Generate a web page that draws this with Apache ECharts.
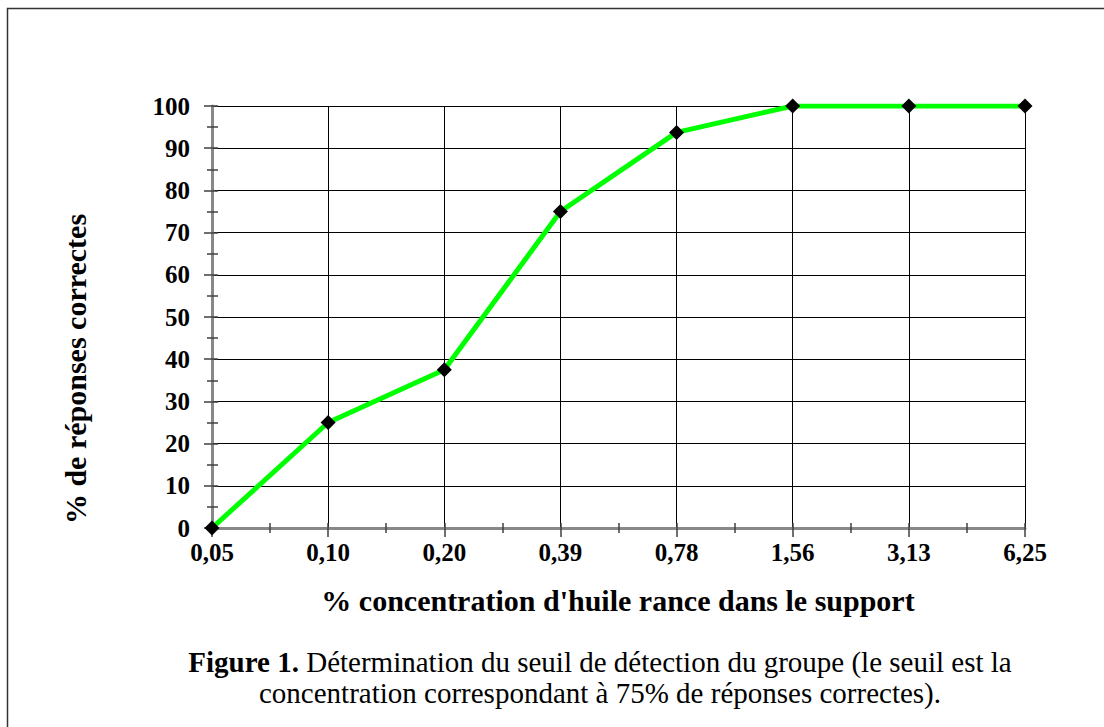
<!DOCTYPE html>
<html>
<head>
<meta charset="utf-8">
<script src="https://cdn.jsdelivr.net/npm/echarts@6/dist/echarts.min.js"></script>
<style>
  html, body { margin: 0; padding: 0; background: #fff; }
  #chart { width: 1104px; height: 727px; }
</style>
</head>
<body>
<div id="chart"></div>
<script>
// data
var concentrations = ['0,05', '0,10', '0,20', '0,39', '0,78', '1,56', '3,13', '6,25'];
var correctPct = [0, 25, 37.5, 75, 93.75, 100, 100, 100];
var yTicks = [0, 10, 20, 30, 40, 50, 60, 70, 80, 90, 100];

var serif = '"Liberation Serif", "Times New Roman", serif';
var points = correctPct.map(function(v, i) { return [i, v]; });

var chart = echarts.init(document.getElementById('chart'), null, { renderer: 'svg' });
chart.setOption({
  animation: false,
  backgroundColor: '#fff',
  grid: { left: 212, right: 79, top: 106, bottom: 199, show: false },
  xAxis: [{
    type: 'value',
    min: 0,
    max: concentrations.length - 1,
    interval: 1,
    position: 'bottom',
    axisLine: { lineStyle: { color: '#404040', width: 2 } },
    axisTick: { show: true, length: 9, lineStyle: { color: '#404040', width: 1.5 } },
    minorTick: { show: true, splitNumber: 2, length: 5, lineStyle: { color: '#404040', width: 1.5 } },
    axisLabel: {
      color: '#000', fontFamily: serif, fontWeight: 'bold', fontSize: 25, margin: 12,
      formatter: function(v) { return concentrations[v] || ''; }
    },
    splitLine: { show: true, lineStyle: { color: '#000', width: 1 } }
  }, {
    type: 'value',
    min: 0,
    max: concentrations.length - 1,
    interval: 0.5,
    position: 'bottom',
    axisLine: { show: false },
    axisTick: { show: true, inside: true, length: 5, lineStyle: { color: '#404040', width: 1.5 } },
    axisLabel: { show: false },
    splitLine: { show: false }
  }, {
    type: 'value',
    min: 0,
    max: concentrations.length - 1,
    position: 'top',
    axisLine: { show: true, lineStyle: { color: '#888', width: 3 } },
    axisTick: { show: false },
    axisLabel: { show: false },
    splitLine: { show: false }
  }],
  yAxis: [{
    type: 'value',
    min: yTicks[0],
    max: yTicks[yTicks.length - 1],
    interval: 10,
    position: 'left',
    axisLine: { show: true, lineStyle: { color: '#404040', width: 2 } },
    axisTick: { show: true, length: 8, lineStyle: { color: '#404040', width: 1.5 } },
    minorTick: { show: true, splitNumber: 2, length: 5, lineStyle: { color: '#404040', width: 1.5 } },
    axisLabel: { color: '#000', fontFamily: serif, fontWeight: 'bold', fontSize: 25, margin: 22 },
    splitLine: { show: true, lineStyle: { color: '#000', width: 1 } }
  }, {
    type: 'value',
    min: 0,
    max: 100,
    interval: 5,
    position: 'left',
    axisLine: { show: false },
    axisTick: { show: true, inside: true, length: 6, lineStyle: { color: '#404040', width: 1.5 } },
    axisLabel: { show: false },
    splitLine: { show: false }
  }, {
    type: 'value',
    min: 0,
    max: 100,
    position: 'right',
    axisLine: { show: true, lineStyle: { color: '#888', width: 3 } },
    axisTick: { show: false },
    axisLabel: { show: false },
    splitLine: { show: false }
  }],
  series: [{
    type: 'line',
    xAxisIndex: 0,
    yAxisIndex: 0,
    data: points,
    lineStyle: { color: '#00ff00', width: 5 },
    itemStyle: { color: '#000' },
    symbol: 'diamond',
    symbolSize: 15,
    z: 5
  }],
  graphic: [{
    type: 'rect',
    shape: { x: 7.5, y: 8.5, width: 1200, height: 900 },
    style: { fill: 'none', stroke: '#333', lineWidth: 1.5 },
    silent: true
  }, {
    type: 'text',
    x: 618,
    y: 600,
    style: {
      text: "% concentration d'huile rance dans le support",
      align: 'center',
      verticalAlign: 'middle',
      fill: '#000',
      font: 'bold 30px ' + serif
    }
  }, {
    type: 'text',
    x: 75,
    y: 369,
    rotation: Math.PI / 2,
    style: {
      text: '% de réponses correctes',
      align: 'center',
      verticalAlign: 'middle',
      fill: '#000',
      font: 'bold 30px ' + serif
    }
  }, {
    type: 'text',
    x: 600,
    y: 677,
    style: {
      text: '{b|Figure 1.} Détermination du seuil de détection du groupe (le seuil est la\nconcentration correspondant à 75% de réponses correctes).',
      align: 'center',
      verticalAlign: 'middle',
      fill: '#000',
      fontFamily: serif,
      fontSize: 29,
      lineHeight: 31,
      rich: {
        b: { fontFamily: serif, fontWeight: 'bold', fontSize: 29, lineHeight: 31 }
      }
    }
  }]
});
window.addEventListener('resize', function() { chart.resize(); });
</script>
</body>
</html>
